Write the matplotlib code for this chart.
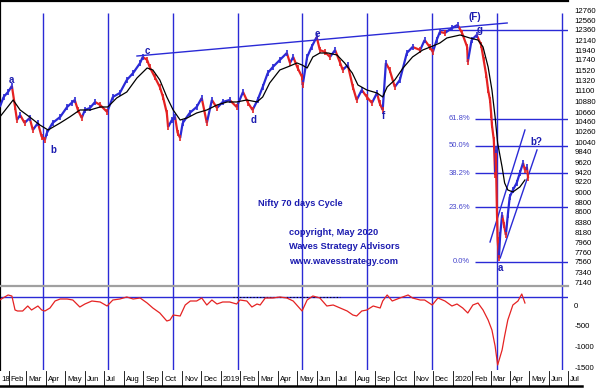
import numpy as np
import pandas as pd
import matplotlib
matplotlib.use("Agg")
import matplotlib.pyplot as plt
from matplotlib.collections import LineCollection

plt.rcParams["font.family"] = ["Liberation Sans", "DejaVu Sans"]
plt.rcParams["axes.unicode_minus"] = False

# --- DATI (giorni dal 2018-01-01) ---
prezzo_giorni = [17, 23, 30, 36, 41, 44, 49, 56, 64, 69,
                 77, 83, 88, 91, 100, 112, 123, 130, 135, 140,
                 146, 151, 159, 167, 175, 186, 195, 206, 217, 227,
                 238, 242, 249, 253, 261, 269, 274, 280, 282, 288,
                 293, 297, 301, 305, 316, 327, 335, 343, 351, 359,
                 368, 379, 390, 400, 408, 415, 423, 431, 439, 447,
                 458, 469, 474, 479, 486, 493, 494, 501, 508, 516,
                 521, 529, 537, 545, 553, 557, 565, 573, 579, 587,
                 595, 603, 611, 615, 620, 625, 631, 639, 647, 658,
                 667, 679, 686, 694, 699, 705, 710, 718, 729, 738,
                 745, 753, 754, 760, 768, 775, 779, 783, 786, 789,
                 791, 792, 795, 797, 798, 800, 801, 803, 805, 808,
                 811, 814, 817, 820, 825, 831, 836, 841, 844, 847,
                 849]
prezzo = [10767, 10974, 11078, 11202, 10767, 10498, 10602, 10436, 10540, 10291,
          10436, 10147, 10084, 10229, 10436, 10560, 10767, 10851, 10912, 10705,
          10540, 10705, 10747, 10871, 10809, 10664, 10974, 11057, 11326, 11471,
          11678, 11802, 11740, 11595, 11388, 11181, 10974, 10643, 10353, 10498,
          10560, 10229, 10126, 10436, 10643, 10767, 10953, 10436, 10912, 10747,
          10871, 10912, 10767, 11078, 10850, 10705, 10912, 11181, 11471, 11595,
          11740, 11884, 11678, 11802, 11574, 11388, 11222, 11802, 12009, 12215,
          11946, 11905, 11802, 11946, 11678, 11533, 11636, 11181, 10912, 11119,
          10974, 10851, 11057, 10851, 10705, 11678, 11533, 11181, 11326, 11884,
          12009, 11946, 12153, 12009, 11905, 12153, 12319, 12298, 12402, 12464,
          12298, 12009, 11698, 12153, 12257, 12050, 11740, 11429, 11119, 10912,
          10602, 10395, 10084, 9360, 9878, 8533, 8016, 7643, 8119, 8533,
          8326, 8119, 8533, 8905, 9050, 9195, 9402, 9609, 9464, 9526,
          9298]

media_giorni = [17, 38, 49, 64, 80, 93, 112, 127, 143, 159,
                175, 187, 201, 217, 233, 249, 258, 269, 280, 290,
                301, 312, 327, 343, 359, 375, 390, 406, 422, 431,
                442, 458, 474, 485, 493, 501, 510, 521, 534, 548,
                560, 572, 581, 595, 611, 620, 627, 639, 652, 667,
                683, 699, 710, 721, 742, 757, 770, 778, 786, 792,
                797, 801, 808, 812, 817, 825, 836, 844]
media = [10560, 10912, 10705, 10560, 10395, 10291, 10436, 10560, 10705, 10705,
         10767, 10767, 10953, 11078, 11367, 11574, 11533, 11326, 10974, 10705,
         10498, 10540, 10643, 10705, 10809, 10871, 10871, 10912, 10871, 10974,
         11264, 11533, 11616, 11678, 11636, 11574, 11802, 11884, 11884, 11843,
         11678, 11471, 11222, 11119, 11057, 10974, 11181, 11326, 11574, 11802,
         11946, 12029, 12091, 12195, 12257, 12195, 12153, 12009, 11595, 11119,
         10560, 10022, 9526, 9195, 9050, 9009, 9112, 9257]

osc_giorni = [17, 22, 30, 36, 41, 45, 53, 61, 67, 72,
              77, 83, 88, 96, 104, 112, 123, 132, 143, 151,
              162, 175, 186, 195, 206, 217, 227, 238, 249, 258,
              269, 280, 285, 290, 301, 309, 317, 327, 335, 343,
              351, 359, 368, 379, 390, 395, 406, 414, 422, 427,
              435, 447, 458, 469, 479, 493, 501, 510, 521, 532,
              542, 553, 564, 573, 579, 587, 595, 605, 616, 620,
              627, 635, 647, 660, 667, 679, 686, 698, 707, 718,
              729, 737, 746, 754, 762, 770, 778, 786, 792, 797,
              801, 808, 812, 817, 825, 833, 839, 844]
osc = [120, 168, 240, 216, -120, -144, -144, -24, -120, -72,
       -24, -120, -144, -72, 96, 144, 144, 120, -48, 24,
       96, 72, -24, 120, 144, 192, 144, 168, 48, -72,
       -192, -384, -360, -240, -264, 0, 96, 96, 168, 0,
       120, 24, 72, 72, 24, 120, 96, -48, 24, 0,
       168, 168, 192, 168, 96, -144, 120, 216, 168, -24,
       0, -72, -144, -240, -264, -144, -120, -24, -72, 96,
       240, 96, 168, 240, 168, 120, 120, 0, 168, 96,
       -24, 24, -72, -192, 0, 48, -120, -360, -600, -984,
       -1440, -1080, -744, -360, 0, 96, 264, 48]

cicli_giorni = [85, 187, 290, 392, 493, 595, 698, 800, 902]

fib_percentuali = [61.8, 50.0, 38.2, 23.6, 0.0]
fib_minimo = 7560
fib_massimo = 12360

tick_prezzo = [12760, 12560, 12360, 12140, 11940, 11740, 11520, 11320, 11100,
               10880, 10660, 10460, 10260, 10040, 9840, 9620, 9420, 9220, 9000,
               8800, 8600, 8380, 8180, 7960, 7760, 7560, 7340, 7140]
tick_osc = [0, -500, -1000, -1500]

onde_etichette = ["a", "b", "c", "d", "e", "f", "(F)", "g", "a", "b?"]
onde_giorni = [35, 101, 249, 416, 517, 621, 765, 773, 805, 862]
onde_prezzi = [11326, 9878, 11926, 10498, 12278, 10581, 12629, 12360, 7436, 10043]

trend_giorni = [233, 816]
trend_prezzi = [11822, 12505]
canale1_giorni = [789, 844]
canale1_prezzi = [7974, 10291]
canale2_giorni = [805, 863]
canale2_prezzi = [7643, 9878]

livello_osc = 192

BLU = "#2a2ad6"
BLU_TESTO = "#1c1cb0"
ROSSO = "#e52222"
X_MIN, X_MAX = 17.3, 911.8
GIORNI_PX = (X_MAX - X_MIN) / 568

fig = plt.figure(figsize=(6.04, 3.89), dpi=100)
ax = fig.add_axes([0.0, 1 - 285 / 389, 568 / 604, 284 / 389])
ax2 = fig.add_axes([0.0, 1 - 370 / 389, 568 / 604, 84 / 389])
ax3 = fig.add_axes([0.0, 1 - 386 / 389, 582 / 604, 15 / 389])

# --- pannello prezzi ---
ax.vlines(cicli_giorni, 7000, 12712, color=BLU, lw=1.0, zorder=1)

ax.plot(trend_giorni, trend_prezzi, color=BLU, lw=1.0)
ax.plot(canale1_giorni, canale1_prezzi, color=BLU, lw=1.0)
ax.plot(canale2_giorni, canale2_prezzi, color=BLU, lw=1.0)

ax.hlines(fib_massimo, 710, X_MAX, color=BLU, lw=1.0)
for p in fib_percentuali:
    livello = fib_minimo + p / 100 * (fib_massimo - fib_minimo)
    ax.hlines(livello, 765, X_MAX, color=BLU, lw=1.0)
    ax.text(758, livello, f"{p:.1f}%", ha="right", va="center",
            fontsize=5.5, color="#4646cc")

# barre prezzo: segmenti colorati per direzione + piccoli tratti verticali
punti = np.column_stack([prezzo_giorni, prezzo])
segmenti = np.stack([punti[:-1], punti[1:]], axis=1)
colori = [ROSSO if b < a else BLU for a, b in zip(prezzo[:-1], prezzo[1:])]
ax.add_collection(LineCollection(segmenti, colors=colori, linewidths=1.6, zorder=3))
ax.vlines(prezzo_giorni[1:], np.array(prezzo[1:]) - 70, np.array(prezzo[1:]) + 70,
          colors=colori, lw=1.2, zorder=3)
ax.plot(media_giorni, media, color="black", lw=0.9, zorder=4)

for t, g, v in zip(onde_etichette, onde_giorni, onde_prezzi):
    ax.text(g, v, t, ha="center", va="center", fontsize=7,
            fontweight="bold", color=BLU_TESTO, zorder=5)

ax.text(424, 8760, "Nifty 70 days Cycle", fontsize=6.7, fontweight="bold",
        color=BLU_TESTO, va="center")
for testo, v in zip(["copyright, May 2020", "Waves Strategy Advisors",
                     "www.wavesstrategy.com"], [8160, 7871, 7560]):
    ax.text(472, v, testo, fontsize=6.7, fontweight="bold",
            color=BLU_TESTO, va="center")

ax.set_xlim(X_MIN, X_MAX)
ax.set_ylim(7084, 12960)
ax.yaxis.tick_right()
ax.set_yticks(tick_prezzo)
ax.tick_params(axis="y", length=0, labelsize=5.6, pad=4.5)
ax.set_xticks([])
for lato in ["right", "bottom"]:
    ax.spines[lato].set_visible(False)
for lato in ["top", "left"]:
    ax.spines[lato].set_linewidth(1.6)

# --- pannello oscillatore ---
ax2.vlines(cicli_giorni, -2000, 600, color=BLU, lw=1.0, zorder=1)
ax2.axhline(livello_osc, color=BLU, lw=1.0, zorder=1)
ax2.hlines(livello_osc, 384, 553, color="black", lw=0.8, linestyles=(0, (1, 2)), zorder=2)
ax2.plot(osc_giorni, osc, color=ROSSO, lw=0.9, zorder=3)
ax2.set_xlim(X_MIN, X_MAX)
ax2.set_ylim(-1560, 456)
ax2.yaxis.tick_right()
ax2.set_yticks(tick_osc)
ax2.tick_params(axis="y", length=0, labelsize=5.6, pad=4.5)
ax2.set_xticks([])
ax2.spines["right"].set_visible(False)
ax2.spines["bottom"].set_visible(False)
ax2.spines["top"].set_color("#a0a0a0")
ax2.spines["top"].set_linewidth(1.6)
ax2.spines["left"].set_linewidth(1.6)

# --- striscia date ---
base = pd.Timestamp("2018-01-01")
mesi = pd.date_range("2018-01-01", "2020-07-01", freq="MS")
for m in mesi:
    g = (m - base).days
    etichetta = str(m.year) if m.month == 1 else m.strftime("%b")
    x_testo = g + 3
    if x_testo < X_MIN:
        # primo anno tagliato dal bordo: resta visibile solo "18"
        etichetta = etichetta[-2:]
        x_testo = X_MIN + 1.5
    else:
        ax3.axvline(g, color="black", lw=0.6)
    ax3.text(x_testo, 0.45, etichetta, fontsize=5.6, va="center", ha="left")
ax3.set_xlim(X_MIN, X_MIN + 582 * GIORNI_PX)
ax3.set_ylim(0, 1)
ax3.set_xticks([])
ax3.set_yticks([])
for lato in ["top", "right", "left"]:
    ax3.spines[lato].set_visible(False)
ax3.spines["bottom"].set_linewidth(1.8)

fig.savefig("out.png", dpi=100)
